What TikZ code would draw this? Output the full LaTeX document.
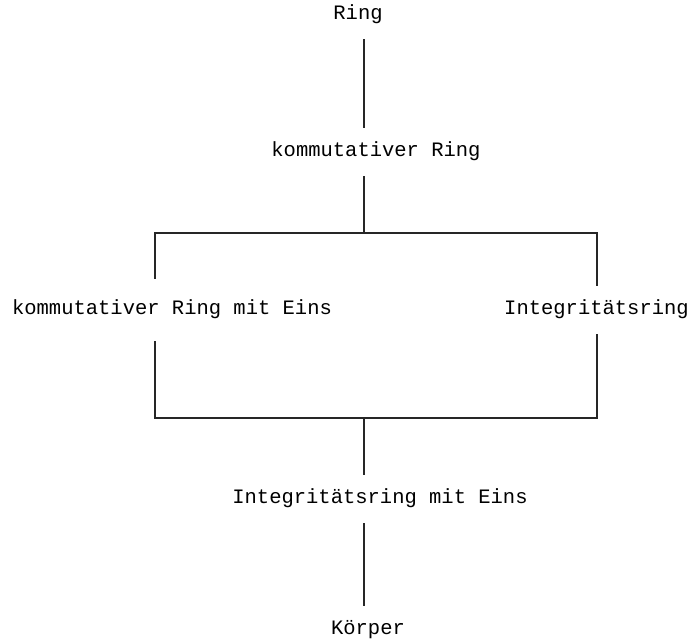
\documentclass[tikz,border=0pt]{standalone}
\usepackage{fontspec}
\setmonofont{Liberation Mono}
\begin{document}
\begin{tikzpicture}[x=1pt,y=-1pt,
  lbl/.style={font=\ttfamily\fontsize{20.5}{24}\selectfont, inner sep=0pt, text height=12pt, text depth=4pt, minimum height=48pt, anchor=center},
  conn/.style={line width=1.4pt, draw=black!85}]
\useasboundingbox (0,0) rectangle (690,641);
\node[lbl] (ring) at (358,15) {Ring};
\node[lbl] (kr) at (376,152) {kommutativer Ring};
\node[lbl, minimum height=62pt] (kre) at (172,310) {kommutativer Ring mit Eins};
\node[lbl] (ir) at (596.5,310) {Integritätsring};
\node[lbl] (ire) at (380,499) {Integritätsring mit Eins};
\node[lbl] (k) at (368,630) {Körper};
\coordinate (j1) at (364,233);
\coordinate (tl) at (155,233);
\coordinate (tr) at (597,233);
\coordinate (bl) at (155,418);
\coordinate (br) at (597,418);
\coordinate (j2) at (364,418);
\draw[conn] (ring.south -| j1) -- (kr.north -| j1);
\draw[conn] (kr.south -| j1) -- (j1);
\draw[conn] (tl |- kre.north) -- (tl) -- (tr) -- (tr |- ir.north);
\draw[conn] (bl |- kre.south) -- (bl) -- (br) -- (br |- ir.south);
\draw[conn] (j2) -- (ire.north -| j2);
\draw[conn] (ire.south -| j2) -- (k.north -| j2);
\end{tikzpicture}
\end{document}
